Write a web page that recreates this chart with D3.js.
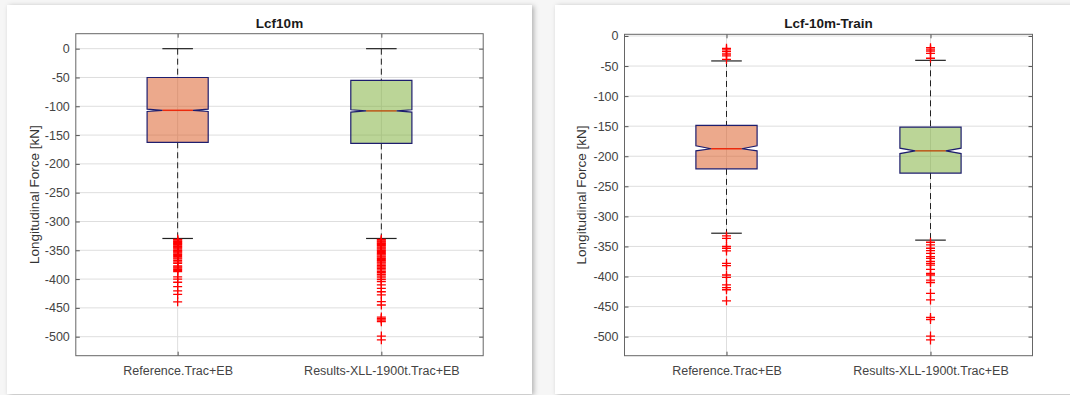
<!DOCTYPE html>
<html>
<head>
<meta charset="utf-8">
<script src="https://cdn.jsdelivr.net/npm/d3@7"></script>
<style>
  html, body { margin: 0; padding: 0; background: #f6f6f6; }
  svg { display: block; }
  text { font-family: "Liberation Sans", Arial, Helvetica, sans-serif; }
</style>
</head>
<body>
<svg id="fig" width="1070" height="395"></svg>
<script>
// Category labels shared by both panels
const categories = ["Reference.Trac+EB", "Results-XLL-1900t.Trac+EB"];
const yTicks = [0, -50, -100, -150, -200, -250, -300, -350, -400, -450, -500];

// Panel 1: Lcf10m  — box statistics per category
const lcfWhiskerHi = [0, 0];
const lcfQ3        = [-50, -55];
const lcfMedian    = [-107, -108];
const lcfQ1        = [-162.5, -164.5];
const lcfWhiskerLo = [-329.5, -329.5];
const lcfNotchHi   = [-105, -106];
const lcfNotchLo   = [-109, -110];
const lcfOutliersRef = [-331, -332, -333.5, -335, -336.5, -338, -339.5, -341, -343, -344.5, -346, -348,
  -350, -351.5, -353, -355, -357, -359, -361, -363, -365, -367.5, -370, -372.5, -377, -379, -381,
  -383, -385, -387, -396, -400, -405.5, -413, -420.5, -426.5, -439.5];
const lcfOutliersRes = [-331, -332.5, -334, -335.5, -337, -338.5, -340, -342, -344, -346, -348, -350,
  -352, -354, -356, -358, -360, -362, -364, -366, -368, -370, -372, -374, -376.5, -379, -381.5, -384,
  -386.5, -389, -392, -395, -398, -401, -404.5, -410, -416, -422, -427.5, -439, -445, -466, -468.5,
  -471, -474, -499, -505.5];

// Panel 2: Lcf-10m-Train — box statistics per category
const trainWhiskerHi = [-41.5, -40.5];
const trainQ3        = [-148.5, -151.5];
const trainMedian    = [-187.5, -191];
const trainQ1        = [-221, -228];
const trainWhiskerLo = [-328, -339.5];
const trainNotchHi   = [-182.5, -186.5];
const trainNotchLo   = [-191, -195.5];
const trainOutliersRef = [-20.5, -23, -26, -30, -33, -39, -332.5, -336.5, -350, -353, -357.5, -378,
  -382, -397.5, -401.5, -414, -418.5, -422, -440.5];
const trainOutliersRes = [-19.5, -22, -25, -29, -37, -343, -347.5, -353, -357, -361.5, -367, -370,
  -375, -378, -381, -388, -395, -397.5, -406, -410, -428, -439, -468, -471.5, -499, -505.5];

const boxFills = ["#d9541a", "#77ab30"];   // drawn at 50% opacity

const svg = d3.select("#fig");
const defs = svg.append("defs");
const sh = defs.append("filter").attr("id", "shadow")
  .attr("x", "-5%").attr("y", "-5%").attr("width", "110%").attr("height", "110%");
sh.append("feDropShadow").attr("dx", 2).attr("dy", 1).attr("stdDeviation", 2.5)
  .attr("flood-color", "#000").attr("flood-opacity", 0.28);

// white cards
svg.append("rect").attr("x", 7).attr("y", 5).attr("width", 525).attr("height", 389)
  .attr("fill", "#fff").attr("filter", "url(#shadow)");
svg.append("rect").attr("x", 555).attr("y", 5).attr("width", 525).attr("height", 389)
  .attr("fill", "#fff").attr("filter", "url(#shadow)");

function panel(opt) {
  const g = svg.append("g");
  const x = d3.scaleLinear().domain([0.5, 2.5]).range([opt.x0, opt.x1]);
  const y = d3.scaleLinear().domain(opt.yDomain).range([opt.y1, opt.y0]);
  const unit = x(2) - x(1);
  const hw = unit * 0.15;     // half box width
  const capHw = hw / 2;

  // grid
  g.append("g").selectAll("line").data(yTicks).join("line")
    .attr("x1", opt.x0).attr("x2", opt.x1)
    .attr("y1", d => y(d)).attr("y2", d => y(d))
    .attr("stroke", "#dedede").attr("stroke-width", 1);
  g.append("g").selectAll("line").data([1, 2]).join("line")
    .attr("x1", d => x(d)).attr("x2", d => x(d))
    .attr("y1", opt.y0).attr("y2", opt.y1)
    .attr("stroke", "#dedede").attr("stroke-width", 1);

  const idx = [0, 1];
  // whiskers (dashed)
  g.append("g").selectAll("line").data(idx).join("line")
    .attr("x1", i => x(i + 1)).attr("x2", i => x(i + 1))
    .attr("y1", i => y(opt.whiskerHi[i])).attr("y2", i => y(opt.q3[i]))
    .attr("stroke", "#222").attr("stroke-width", 1).attr("stroke-dasharray", "6,4");
  g.append("g").selectAll("line").data(idx).join("line")
    .attr("x1", i => x(i + 1)).attr("x2", i => x(i + 1))
    .attr("y1", i => y(opt.q1[i])).attr("y2", i => y(opt.whiskerLo[i]))
    .attr("stroke", "#222").attr("stroke-width", 1).attr("stroke-dasharray", "6,4");
  // whisker caps
  ["whiskerHi", "whiskerLo"].forEach(k => {
    g.append("g").selectAll("line").data(idx).join("line")
      .attr("x1", i => x(i + 1) - capHw).attr("x2", i => x(i + 1) + capHw)
      .attr("y1", i => y(opt[k][i])).attr("y2", i => y(opt[k][i]))
      .attr("stroke", "#222").attr("stroke-width", 1.2);
  });

  // medians (underneath the translucent boxes)
  g.append("g").selectAll("line").data(idx).join("line")
    .attr("x1", i => x(i + 1) - hw / 2).attr("x2", i => x(i + 1) + hw / 2)
    .attr("y1", i => y(opt.median[i])).attr("y2", i => y(opt.median[i]))
    .attr("stroke", "#ff0000").attr("stroke-width", 1.5);

  // notched boxes
  const boxPath = i => {
    const c = x(i + 1), L = c - hw, R = c + hw;
    const t = y(opt.q3[i]), b = y(opt.q1[i]);
    const nt = y(opt.notchHi[i]), nb = y(opt.notchLo[i]), m = y(opt.median[i]);
    return d3.line()([[L, t], [R, t], [R, nt], [c + hw / 2, m], [R, nb], [R, b],
      [L, b], [L, nb], [c - hw / 2, m], [L, nt]]) + "Z";
  };
  g.append("g").selectAll("path").data(idx).join("path")
    .attr("d", boxPath)
    .attr("fill", i => boxFills[i]).attr("fill-opacity", 0.5)
    .attr("stroke", "#1e1e6e").attr("stroke-width", 1.2);

  // outliers
  idx.forEach(i => {
    const pts = opt.outliers[i];
    const og = g.append("g");
    og.selectAll("path").data(pts).join("path")
      .attr("d", v => {
        const cx = x(i + 1), cy = y(v), s = 4.5;
        return `M${cx - s},${cy}H${cx + s}M${cx},${cy - s}V${cy + s}`;
      })
      .attr("stroke", "#ff0000").attr("stroke-width", 1.3).attr("fill", "none");
  });

  // axes
  const axL = g.append("g").attr("transform", `translate(${opt.x0},0)`)
    .call(d3.axisLeft(y).tickValues(yTicks).tickSize(-4).tickPadding(6).tickFormat(d => String(d)));
  const axR = g.append("g").attr("transform", `translate(${opt.x1},0)`)
    .call(d3.axisRight(y).tickValues(yTicks).tickSize(-4).tickFormat(""));
  const axB = g.append("g").attr("transform", `translate(0,${opt.y1})`)
    .call(d3.axisBottom(x).tickValues([1, 2]).tickSize(-4).tickPadding(10).tickFormat((d, i) => categories[i]));
  const axT = g.append("g").attr("transform", `translate(0,${opt.y0})`)
    .call(d3.axisTop(x).tickValues([1, 2]).tickSize(-4).tickFormat(""));
  [axL, axR, axB, axT].forEach(a => {
    a.select(".domain").remove();
    a.selectAll(".tick line").attr("stroke", "#555");
    a.selectAll("text").attr("fill", "#444").style("font-size", "12.5px")
      .style("font-family", "'Liberation Sans', Arial, sans-serif");
  });
  g.append("rect").attr("x", opt.x0).attr("y", opt.y0)
    .attr("width", opt.x1 - opt.x0).attr("height", opt.y1 - opt.y0)
    .attr("fill", "none").attr("stroke", "#666").attr("stroke-width", 1);

  // title and y label
  g.append("text").attr("x", (opt.x0 + opt.x1) / 2).attr("y", 28)
    .attr("text-anchor", "middle").attr("font-weight", "bold")
    .style("font-size", "13.5px").attr("fill", "#1a1a1a").text(opt.title);
  g.append("text")
    .attr("transform", `translate(${opt.ylabX},${(opt.y0 + opt.y1) / 2}) rotate(-90)`)
    .attr("text-anchor", "middle").attr("dominant-baseline", "central")
    .style("font-size", "13.5px").attr("fill", "#333")
    .text("Longitudinal Force [kN]");
}

panel({
  title: "Lcf10m", x0: 75.8, x1: 483.2, y0: 33.7, y1: 355.7, yDomain: [-533, 26], ylabX: 34.5,
  whiskerHi: lcfWhiskerHi, q3: lcfQ3, median: lcfMedian, q1: lcfQ1, whiskerLo: lcfWhiskerLo,
  notchHi: lcfNotchHi, notchLo: lcfNotchLo, outliers: [lcfOutliersRef, lcfOutliersRes]
});
panel({
  title: "Lcf-10m-Train", x0: 624.5, x1: 1032.5, y0: 34.3, y1: 355.7, yDomain: [-531.7, 2.8], ylabX: 581,
  whiskerHi: trainWhiskerHi, q3: trainQ3, median: trainMedian, q1: trainQ1, whiskerLo: trainWhiskerLo,
  notchHi: trainNotchHi, notchLo: trainNotchLo, outliers: [trainOutliersRef, trainOutliersRes]
});
</script>
</body>
</html>
